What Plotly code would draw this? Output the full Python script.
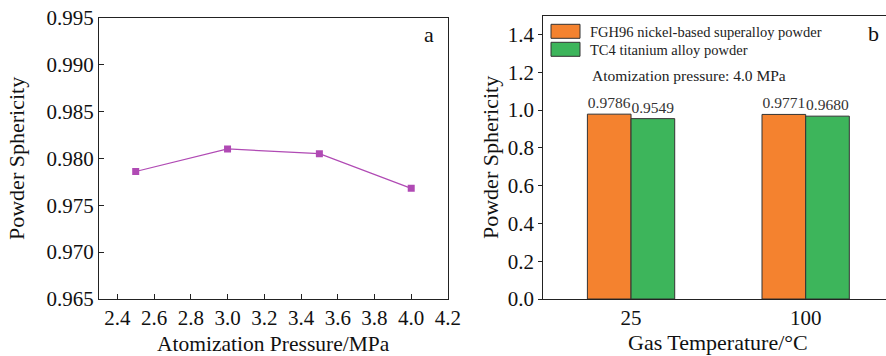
import plotly.graph_objects as go

# Panel a: sphericity vs. atomization pressure
pressure_mpa = [2.5, 3.0, 3.5, 4.0]
sphericity_by_pressure = [0.9786, 0.9810, 0.9805, 0.9768]

# Panel b: sphericity vs. gas temperature for two powders
gas_temperature = ["25", "100"]
fgh96_sphericity = [0.9786, 0.9771]
tc4_sphericity = [0.9549, 0.9680]
series_names = ["FGH96 nickel-based superalloy powder", "TC4 titanium alloy powder"]

FONT = "'Liberation Serif', 'Times New Roman', 'DejaVu Serif', serif"
ORANGE = "#F4822F"
GREEN = "#3DB55B"
PURPLE = "#B04AB4"
EDGE = "#333333"

fig = go.Figure()

fig.add_trace(go.Scatter(
    x=pressure_mpa, y=sphericity_by_pressure, mode="lines+markers",
    line=dict(color=PURPLE, width=1.2),
    marker=dict(symbol="square", size=7, color=PURPLE),
    xaxis="x", yaxis="y", showlegend=False,
))

for vals, color, name in [(fgh96_sphericity, ORANGE, series_names[0]),
                          (tc4_sphericity, GREEN, series_names[1])]:
    fig.add_trace(go.Bar(
        x=gas_temperature, y=vals, name=name,
        marker=dict(color=color, line=dict(color=EDGE, width=1)),
        text=[f"{v:.4f}" for v in vals], textposition="outside",
        textfont=dict(family=FONT, size=15.5, color="#333"),
        cliponaxis=False,
        xaxis="x2", yaxis="y2", showlegend=False,
    ))

axis_font = dict(family=FONT, size=21, color="#111")
common = dict(showgrid=False, zeroline=False, automargin=False, tickfont=axis_font,
              showline=True, linecolor="#222", linewidth=1.2, tickcolor="#222")

fig.update_layout(
    width=886, height=356,
    margin=dict(l=0, r=0, t=0, b=0, autoexpand=False),
    paper_bgcolor="white", plot_bgcolor="white",
    font=dict(family=FONT),
    barmode="group", bargap=0.5, bargroupgap=0,
    xaxis=dict(
        domain=[0.1117, 0.5056], range=[2.3, 4.2],
        tick0=2.4, dtick=0.2, tickformat=".1f",
        ticks="inside", ticklen=5, mirror=True, **common,
    ),
    yaxis=dict(
        domain=[0.1601, 0.9503], range=[0.965, 0.995],
        dtick=0.005, tickformat=".3f",
        ticks="inside", ticklen=5, mirror=True, **common,
    ),
    xaxis2=dict(
        domain=[0.6133, 1.0], range=[-0.502, 1.46], type="category",
        ticks="", mirror=True, anchor="y2", **common,
    ),
    yaxis2=dict(
        domain=[0.1601, 0.956], range=[0, 1.5],
        dtick=0.2, tickformat=".1f",
        ticks="outside", ticklen=4, anchor="x2", **common,
    ),
)

annotations = [
    dict(text="Atomization Pressure/MPa", x=273, y=344, size=21.5),
    dict(text="Gas Temperature/°C", x=718, y=342, size=22),
    dict(text="Powder Sphericity", x=17, y=159, size=22, textangle=-90),
    dict(text="Powder Sphericity", x=490, y=158, size=22, textangle=-90),
    dict(text="a", x=429, y=35, size=22),
    dict(text="b", x=873, y=33, size=22),
]
for a in annotations:
    fig.add_annotation(
        text=a["text"], x=a["x"] / 886, y=1 - a["y"] / 356,
        xref="paper", yref="paper", showarrow=False,
        xanchor="center", yanchor="middle",
        textangle=a.get("textangle", 0),
        font=dict(family=FONT, size=a["size"], color="#111"),
    )

fig.add_annotation(
    text="Atomization pressure: 4.0 MPa", x=590 / 886, y=1 - 76 / 356,
    xref="paper", yref="paper", showarrow=False, xanchor="left", yanchor="middle",
    font=dict(family=FONT, size=15.5, color="#222"),
)

# Legend swatches and labels for panel b
for i, (name, color) in enumerate(zip(series_names, [ORANGE, GREEN])):
    top = 24.3 + i * 18
    fig.add_shape(
        type="rect", xref="paper", yref="paper",
        x0=551 / 886, x1=580 / 886, y0=1 - (top + 14) / 356, y1=1 - top / 356,
        fillcolor=color, line=dict(color=EDGE, width=1),
    )
    fig.add_annotation(
        text=name, x=588 / 886, y=1 - (top + 7.5) / 356,
        xref="paper", yref="paper", showarrow=False, xanchor="left", yanchor="middle",
        font=dict(family=FONT, size=14.5, color="#222"),
    )

fig.write_html("out.html")
